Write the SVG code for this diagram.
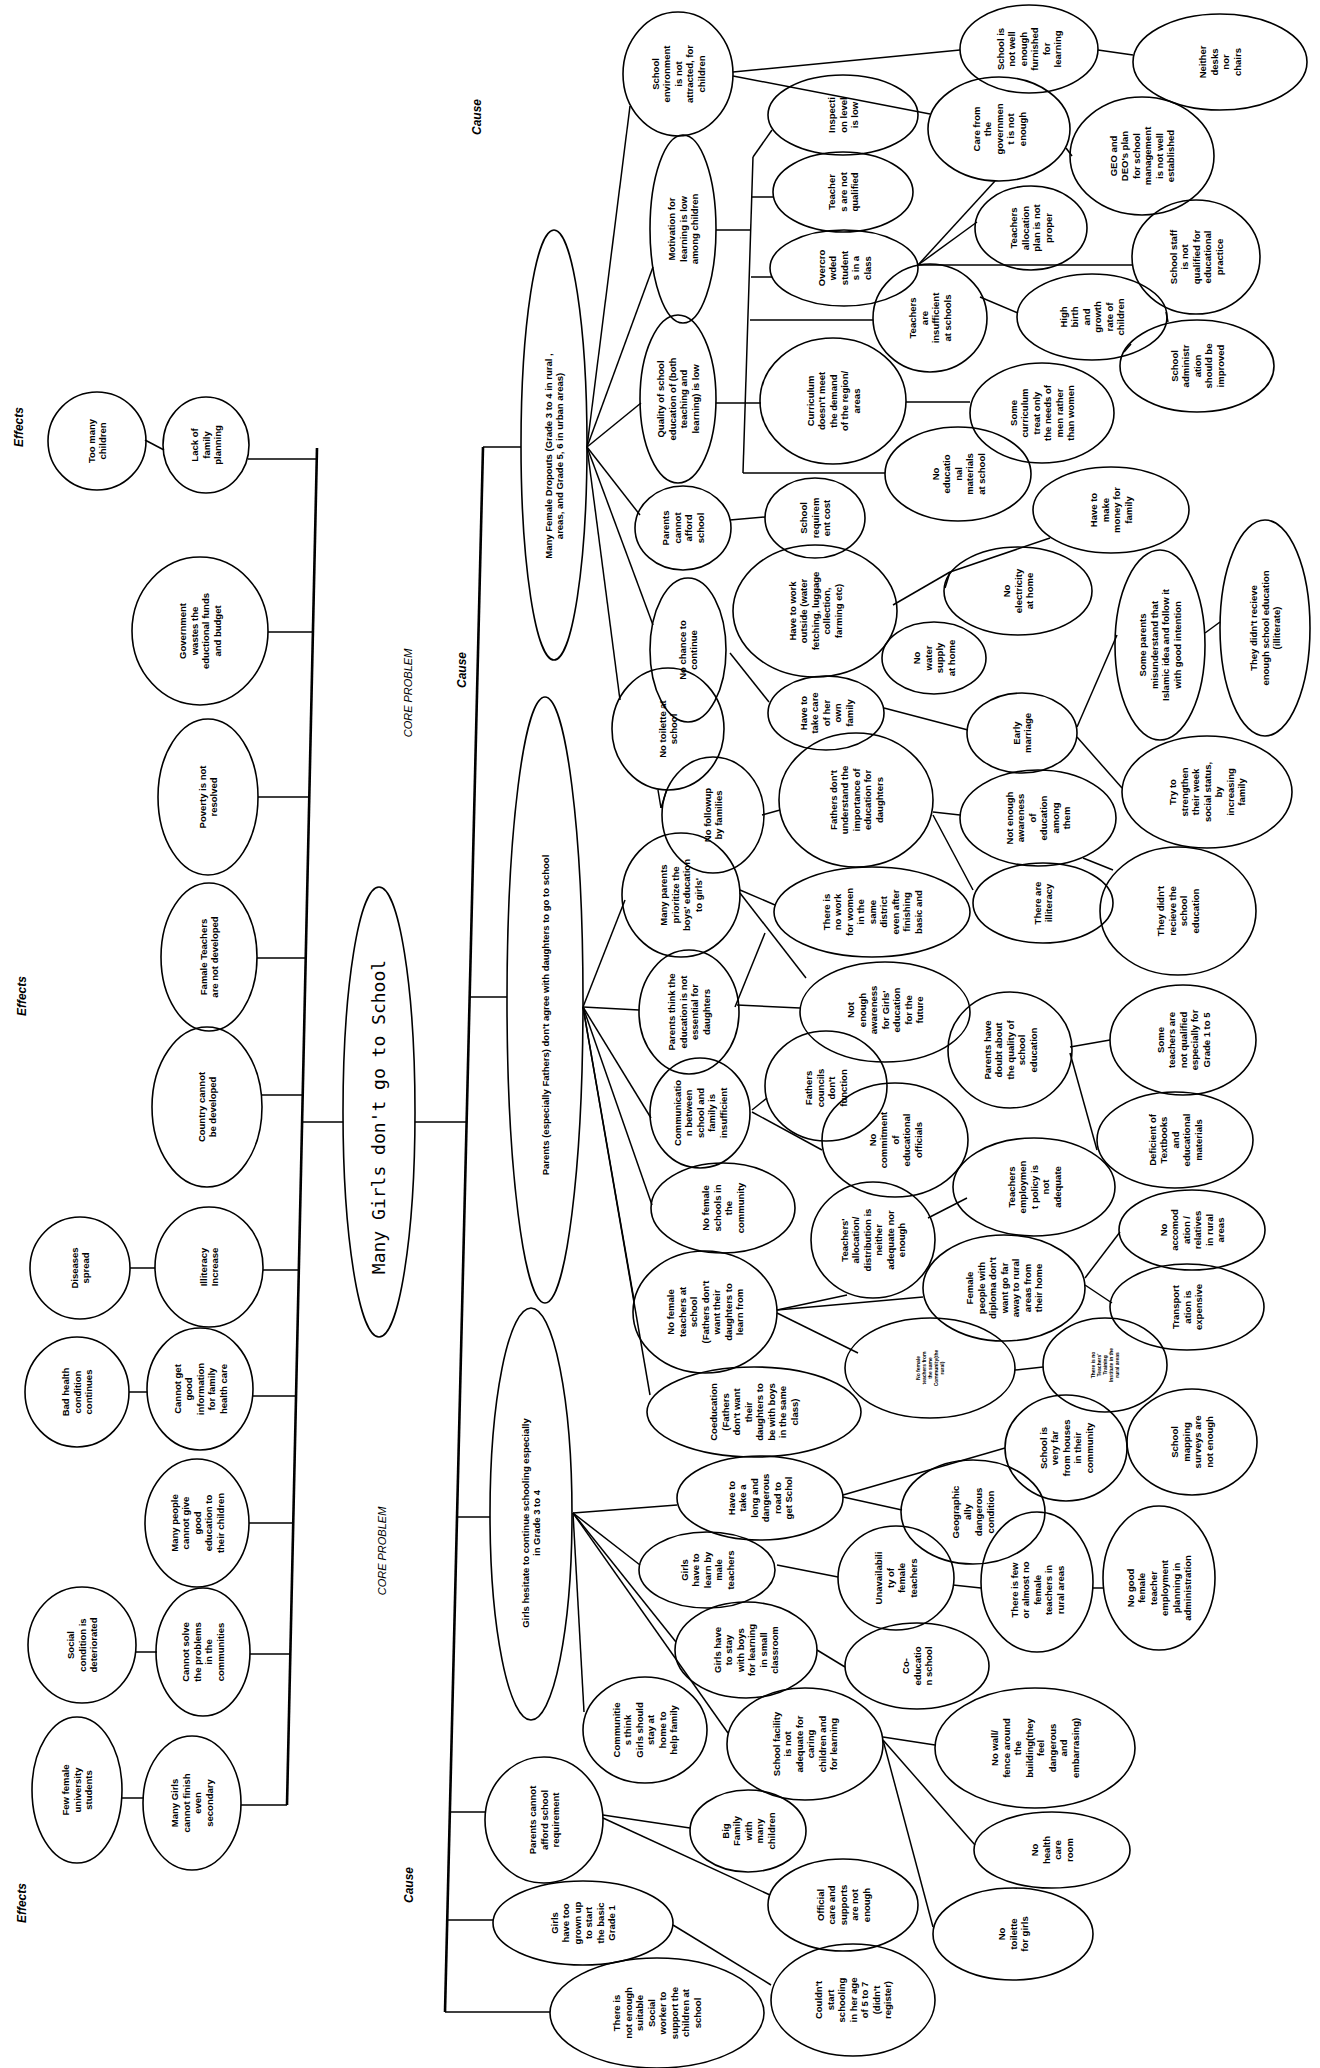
<svg xmlns="http://www.w3.org/2000/svg" width="1320" height="2068" viewBox="0 0 1320 2068">
<style>
.e{fill:none;stroke:#000;stroke-width:1.6}
.t{font-family:"Liberation Sans",Arial,sans-serif;font-size:9.5px;font-weight:bold;text-anchor:middle;fill:#000}
.s{font-family:"Liberation Sans",Arial,sans-serif;font-size:5px;font-weight:bold;text-anchor:middle;fill:#000}
.lbl{font-family:"Liberation Sans",Arial,sans-serif;font-size:12px;font-style:italic;font-weight:bold;text-anchor:middle;fill:#000}
.cp{font-family:"Liberation Sans",Arial,sans-serif;font-size:11px;font-style:italic;text-anchor:middle;fill:#000}
.core{font-family:"DejaVu Sans Mono","Liberation Mono",monospace;font-size:18px;text-anchor:middle;fill:#000}
#links line{stroke:#000;stroke-width:1.5;fill:none}
#links .trunk{stroke-width:2.6}
</style>
<rect width="1320" height="2068" fill="#fff"/>

<g id="labels">
<text class="lbl" transform="translate(19 427) rotate(-90)" dy="4">Effects</text>
<text class="lbl" transform="translate(22 996) rotate(-90)" dy="4">Effects</text>
<text class="lbl" transform="translate(22 1903) rotate(-90)" dy="4">Effects</text>
<text class="lbl" transform="translate(477 117) rotate(-90)" dy="4">Cause</text>
<text class="lbl" transform="translate(462 670) rotate(-90)" dy="4">Cause</text>
<text class="lbl" transform="translate(409 1885) rotate(-90)" dy="4">Cause</text>
<text class="cp" transform="translate(408 693) rotate(-90)" dy="4">CORE PROBLEM</text>
<text class="cp" transform="translate(382 1551) rotate(-90)" dy="4">CORE PROBLEM</text>
</g>

<g id="links">
<line x1="343" y1="1122" x2="302" y2="1122"/>
<line class="trunk" x1="317" y1="448" x2="287" y2="1805"/>
<line x1="248" y1="459" x2="317" y2="459"/>
<line x1="145" y1="440" x2="164" y2="450"/>
<line x1="268" y1="632" x2="313" y2="632"/>
<line x1="258" y1="797" x2="309" y2="797"/>
<line x1="257" y1="958" x2="306" y2="958"/>
<line x1="262" y1="1095" x2="303" y2="1095"/>
<line x1="263" y1="1270" x2="299" y2="1270"/>
<line x1="130" y1="1268" x2="155" y2="1268"/>
<line x1="253" y1="1396" x2="296" y2="1396"/>
<line x1="129" y1="1392" x2="147" y2="1392"/>
<line x1="249" y1="1523" x2="293" y2="1523"/>
<line x1="250" y1="1654" x2="290" y2="1654"/>
<line x1="136" y1="1652" x2="157" y2="1652"/>
<line x1="241" y1="1805" x2="287" y2="1805"/>
<line x1="122" y1="1798" x2="143" y2="1798"/>

<line x1="415" y1="1122" x2="467" y2="1122"/>
<line class="trunk" x1="483" y1="447" x2="445" y2="2012"/>
<line x1="483" y1="447" x2="521" y2="447"/>
<line x1="470" y1="997" x2="507" y2="997"/>
<line x1="457" y1="1517" x2="490" y2="1517"/>
<line x1="450" y1="1812" x2="485" y2="1812"/>
<line x1="447" y1="1920" x2="493" y2="1920"/>
<line x1="445" y1="2012" x2="550" y2="2012"/>

<line x1="587" y1="447" x2="630" y2="106"/>
<line x1="587" y1="447" x2="653" y2="267"/>
<line x1="587" y1="447" x2="641" y2="403"/>
<line x1="587" y1="447" x2="640" y2="515"/>
<line x1="587" y1="447" x2="653" y2="625"/>
<line x1="587" y1="447" x2="620" y2="700"/>

<line x1="583" y1="1007" x2="625" y2="900"/>
<line x1="583" y1="1007" x2="639" y2="1010"/>
<line x1="583" y1="1007" x2="651" y2="1118"/>
<line x1="583" y1="1007" x2="652" y2="1205"/>
<line x1="583" y1="1007" x2="634" y2="1300"/>
<line x1="583" y1="1007" x2="650" y2="1395"/>

<line x1="573" y1="1513" x2="677" y2="1505"/>
<line x1="573" y1="1513" x2="640" y2="1565"/>
<line x1="573" y1="1513" x2="676" y2="1642"/>
<line x1="573" y1="1513" x2="728" y2="1733"/>
<line x1="573" y1="1513" x2="584" y2="1712"/>

<line x1="716" y1="230" x2="750" y2="230"/>
<line x1="716" y1="403" x2="745" y2="403"/>
<line x1="753" y1="157" x2="743" y2="473"/>
<line x1="743" y1="473" x2="885" y2="473"/>
<line x1="753" y1="157" x2="772" y2="130"/>
<line x1="752" y1="197" x2="773" y2="197"/>
<line x1="751" y1="277" x2="772" y2="277"/>
<line x1="750" y1="320" x2="873" y2="320"/>
<line x1="745" y1="403" x2="761" y2="403"/>
<line x1="906" y1="402" x2="970" y2="402"/>
<line x1="733" y1="72" x2="960" y2="50"/>
<line x1="733" y1="76" x2="930" y2="114"/>
<line x1="1098" y1="50" x2="1133" y2="55"/>
<line x1="1066" y1="148" x2="1072" y2="156"/>
<line x1="918" y1="265" x2="995" y2="181"/>
<line x1="918" y1="265" x2="977" y2="222"/>
<line x1="918" y1="265" x2="1132" y2="265"/>
<line x1="980" y1="297" x2="1018" y2="313"/>
<line x1="1124" y1="352" x2="1131" y2="344"/>
<line x1="1166" y1="312" x2="1168" y2="322"/>

<line x1="730" y1="520" x2="765" y2="517"/>
<line x1="730" y1="653" x2="769" y2="702"/>
<line x1="893" y1="605" x2="950" y2="572"/>
<line x1="950" y1="572" x2="945" y2="588"/>
<line x1="950" y1="572" x2="1050" y2="538"/>
<line x1="884" y1="708" x2="968" y2="730"/>
<line x1="1077" y1="727" x2="1117" y2="635"/>
<line x1="1077" y1="737" x2="1122" y2="788"/>
<line x1="1205" y1="633" x2="1220" y2="622"/>
<line x1="658" y1="790" x2="661" y2="808"/>
<line x1="667" y1="789" x2="661" y2="808"/>
<line x1="762" y1="815" x2="780" y2="810"/>
<line x1="933" y1="812" x2="960" y2="815"/>
<line x1="933" y1="815" x2="973" y2="890"/>
<line x1="1083" y1="858" x2="1113" y2="870"/>
<line x1="740" y1="890" x2="775" y2="905"/>
<line x1="740" y1="893" x2="806" y2="978"/>
<line x1="735" y1="1007" x2="765" y2="933"/>
<line x1="737" y1="1005" x2="800" y2="1008"/>
<line x1="752" y1="1110" x2="767" y2="1098"/>
<line x1="752" y1="1112" x2="822" y2="1150"/>
<line x1="1070" y1="1047" x2="1110" y2="1040"/>
<line x1="1070" y1="1053" x2="1097" y2="1150"/>
<line x1="928" y1="1218" x2="967" y2="1198"/>
<line x1="777" y1="1310" x2="847" y2="1295"/>
<line x1="777" y1="1310" x2="923" y2="1297"/>
<line x1="777" y1="1313" x2="858" y2="1353"/>
<line x1="1085" y1="1278" x2="1120" y2="1232"/>
<line x1="1085" y1="1285" x2="1112" y2="1303"/>
<line x1="1015" y1="1370" x2="1043" y2="1367"/>
<line x1="843" y1="1497" x2="902" y2="1510"/>
<line x1="843" y1="1495" x2="1005" y2="1448"/>
<line x1="777" y1="1565" x2="838" y2="1577"/>
<line x1="953" y1="1585" x2="981" y2="1588"/>
<line x1="1092" y1="1588" x2="1103" y2="1588"/>
<line x1="817" y1="1650" x2="845" y2="1667"/>
<line x1="883" y1="1737" x2="935" y2="1745"/>
<line x1="883" y1="1740" x2="975" y2="1845"/>
<line x1="883" y1="1740" x2="933" y2="1927"/>
<line x1="603" y1="1815" x2="690" y2="1828"/>
<line x1="603" y1="1818" x2="770" y2="1895"/>
<line x1="673" y1="1925" x2="771" y2="1985"/>
</g>

<g id="core"><ellipse class="e" cx="379" cy="1112" rx="36" ry="225"/><text class="core" transform="translate(379 1117) rotate(-90)" dy="6">Many Girls don't go to School</text></g>

<g id="ef1"><ellipse class="e" cx="97" cy="441" rx="49" ry="49"/><text class="t" transform="translate(97 441) rotate(-90)"><tspan x="0" dy="-2.25">Too many</tspan><tspan x="0" dy="11.5">children</tspan></text></g>
<g id="ef2"><ellipse class="e" cx="206" cy="445" rx="43" ry="48"/><text class="t" transform="translate(206 445) rotate(-90)"><tspan x="0" dy="-8">Lack of</tspan><tspan x="0" dy="11.5">family</tspan><tspan x="0" dy="11.5">planning</tspan></text></g>
<g id="ef3"><ellipse class="e" cx="200" cy="631" rx="68" ry="74"/><text class="t" transform="translate(200 631) rotate(-90)"><tspan x="0" dy="-13.75">Government</tspan><tspan x="0" dy="11.5">wastes the</tspan><tspan x="0" dy="11.5">eductional funds</tspan><tspan x="0" dy="11.5">and budget</tspan></text></g>
<g id="ef4"><ellipse class="e" cx="208" cy="797" rx="50" ry="78"/><text class="t" transform="translate(208 797) rotate(-90)"><tspan x="0" dy="-2.25">Poverty is not</tspan><tspan x="0" dy="11.5">resolved</tspan></text></g>
<g id="ef5"><ellipse class="e" cx="209" cy="957" rx="48" ry="74"/><text class="t" transform="translate(209 957) rotate(-90)"><tspan x="0" dy="-2.25">Famale Teachers</tspan><tspan x="0" dy="11.5">are not developed</tspan></text></g>
<g id="ef6"><ellipse class="e" cx="207" cy="1107" rx="55" ry="80"/><text class="t" transform="translate(207 1107) rotate(-90)"><tspan x="0" dy="-2.25">Country cannot</tspan><tspan x="0" dy="11.5">be developed</tspan></text></g>
<g id="ef7"><ellipse class="e" cx="80" cy="1268" rx="50" ry="51"/><text class="t" transform="translate(80 1268) rotate(-90)"><tspan x="0" dy="-2.25">Diseases</tspan><tspan x="0" dy="11.5">spread</tspan></text></g>
<g id="ef8"><ellipse class="e" cx="209" cy="1267" rx="54" ry="60"/><text class="t" transform="translate(209 1267) rotate(-90)"><tspan x="0" dy="-2.25">Illiteracy</tspan><tspan x="0" dy="11.5">Increase</tspan></text></g>
<g id="ef9"><ellipse class="e" cx="77" cy="1392" rx="52" ry="55"/><text class="t" transform="translate(77 1392) rotate(-90)"><tspan x="0" dy="-8">Bad health</tspan><tspan x="0" dy="11.5">condition</tspan><tspan x="0" dy="11.5">continues</tspan></text></g>
<g id="ef10"><ellipse class="e" cx="200" cy="1389" rx="53" ry="61"/><text class="t" transform="translate(200 1389) rotate(-90)"><tspan x="0" dy="-19.5">Cannot get</tspan><tspan x="0" dy="11.5">good</tspan><tspan x="0" dy="11.5">information</tspan><tspan x="0" dy="11.5">for family</tspan><tspan x="0" dy="11.5">health care</tspan></text></g>
<g id="ef11"><ellipse class="e" cx="197" cy="1523" rx="52" ry="64"/><text class="t" transform="translate(197 1523) rotate(-90)"><tspan x="0" dy="-19.5">Many people</tspan><tspan x="0" dy="11.5">cannot give</tspan><tspan x="0" dy="11.5">good</tspan><tspan x="0" dy="11.5">education to</tspan><tspan x="0" dy="11.5">their children</tspan></text></g>
<g id="ef12"><ellipse class="e" cx="82" cy="1645" rx="54" ry="58"/><text class="t" transform="translate(82 1645) rotate(-90)"><tspan x="0" dy="-8">Social</tspan><tspan x="0" dy="11.5">condition is</tspan><tspan x="0" dy="11.5">deteriorated</tspan></text></g>
<g id="ef13"><ellipse class="e" cx="203" cy="1652" rx="47" ry="64"/><text class="t" transform="translate(203 1652) rotate(-90)"><tspan x="0" dy="-13.75">Cannot solve</tspan><tspan x="0" dy="11.5">the problems</tspan><tspan x="0" dy="11.5">in the</tspan><tspan x="0" dy="11.5">communities</tspan></text></g>
<g id="ef14"><ellipse class="e" cx="77" cy="1790" rx="45" ry="73"/><text class="t" transform="translate(77 1790) rotate(-90)"><tspan x="0" dy="-8">Few female</tspan><tspan x="0" dy="11.5">university</tspan><tspan x="0" dy="11.5">students</tspan></text></g>
<g id="ef15"><ellipse class="e" cx="192" cy="1803" rx="49" ry="67"/><text class="t" transform="translate(192 1803) rotate(-90)"><tspan x="0" dy="-13.75">Many Girls</tspan><tspan x="0" dy="11.5">cannot finish</tspan><tspan x="0" dy="11.5">even</tspan><tspan x="0" dy="11.5">secondary</tspan></text></g>

<g id="cA"><ellipse class="e" cx="554" cy="445" rx="33" ry="215"/><text class="t" transform="translate(554 456) rotate(-90)"><tspan x="0" dy="-2.25">Many Female Dropouts (Grade 3 to 4 in rural ,</tspan><tspan x="0" dy="11.5">areas, and Grade 5, 6 in urban areas)</tspan></text></g>
<g id="cB"><ellipse class="e" cx="545" cy="1000" rx="38" ry="303"/><text class="t" transform="translate(545 1015) rotate(-90)" dy="3.5">Parents (especially Fathers) don't agree with daughters to go to school</text></g>
<g id="cC"><ellipse class="e" cx="531" cy="1514" rx="41" ry="206"/><text class="t" transform="translate(531 1523) rotate(-90)"><tspan x="0" dy="-2.25">Girls hesitate to continue schooling especially</tspan><tspan x="0" dy="11.5">in Grade 3 to 4</tspan></text></g>
<g id="cD"><ellipse class="e" cx="544" cy="1820" rx="59" ry="63"/><text class="t" transform="translate(544 1820) rotate(-90)"><tspan x="0" dy="-8">Parents cannot</tspan><tspan x="0" dy="11.5">afford school</tspan><tspan x="0" dy="11.5">requirement</tspan></text></g>
<g id="cE"><ellipse class="e" cx="583" cy="1923" rx="90" ry="42"/><text class="t" transform="translate(583 1923) rotate(-90)"><tspan x="0" dy="-25.25">Girls</tspan><tspan x="0" dy="11.5">have too</tspan><tspan x="0" dy="11.5">grown up</tspan><tspan x="0" dy="11.5">to start</tspan><tspan x="0" dy="11.5">the basic</tspan><tspan x="0" dy="11.5">Grade 1</tspan></text></g>
<g id="cF"><ellipse class="e" cx="657" cy="2013" rx="107" ry="55"/><text class="t" transform="translate(657 2013) rotate(-90)"><tspan x="0" dy="-36.75">There is</tspan><tspan x="0" dy="11.5">not enough</tspan><tspan x="0" dy="11.5">suitable</tspan><tspan x="0" dy="11.5">Social</tspan><tspan x="0" dy="11.5">worker to</tspan><tspan x="0" dy="11.5">support the</tspan><tspan x="0" dy="11.5">children at</tspan><tspan x="0" dy="11.5">school</tspan></text></g>

<g id="a1"><ellipse class="e" cx="678" cy="74" rx="55" ry="62"/><text class="t" transform="translate(678 74) rotate(-90)"><tspan x="0" dy="-19.5">School</tspan><tspan x="0" dy="11.5">environment</tspan><tspan x="0" dy="11.5">is not</tspan><tspan x="0" dy="11.5">attracted, for</tspan><tspan x="0" dy="11.5">children</tspan></text></g>
<g id="a2"><ellipse class="e" cx="683" cy="229" rx="33" ry="94"/><text class="t" transform="translate(683 229) rotate(-90)"><tspan x="0" dy="-8">Motivation for</tspan><tspan x="0" dy="11.5">learning is low</tspan><tspan x="0" dy="11.5">among children</tspan></text></g>
<g id="a3"><ellipse class="e" cx="678" cy="399" rx="38" ry="84"/><text class="t" transform="translate(678 399) rotate(-90)"><tspan x="0" dy="-13.75">Quality of school</tspan><tspan x="0" dy="11.5">education of (both</tspan><tspan x="0" dy="11.5">teaching and</tspan><tspan x="0" dy="11.5">learning) is low</tspan></text></g>
<g id="a4"><ellipse class="e" cx="683" cy="528" rx="48" ry="42"/><text class="t" transform="translate(683 528) rotate(-90)"><tspan x="0" dy="-13.75">Parents</tspan><tspan x="0" dy="11.5">cannot</tspan><tspan x="0" dy="11.5">afford</tspan><tspan x="0" dy="11.5">school</tspan></text></g>
<g id="a5"><ellipse class="e" cx="688" cy="650" rx="38" ry="72"/><text class="t" transform="translate(688 650) rotate(-90)"><tspan x="0" dy="-2.25">No chance to</tspan><tspan x="0" dy="11.5">continue</tspan></text></g>
<g id="a6"><ellipse class="e" cx="668" cy="729" rx="56" ry="61"/><text class="t" transform="translate(668 729) rotate(-90)"><tspan x="0" dy="-2.25">No toilette at</tspan><tspan x="0" dy="11.5">school</tspan></text></g>
<g id="a7"><ellipse class="e" cx="843" cy="115" rx="75" ry="40"/><text class="t" transform="translate(843 115) rotate(-90)"><tspan x="0" dy="-8">Inspecti</tspan><tspan x="0" dy="11.5">on level</tspan><tspan x="0" dy="11.5">is low</tspan></text></g>
<g id="a8"><ellipse class="e" cx="843" cy="192" rx="70" ry="40"/><text class="t" transform="translate(843 192) rotate(-90)"><tspan x="0" dy="-8">Teacher</tspan><tspan x="0" dy="11.5">s are not</tspan><tspan x="0" dy="11.5">qualified</tspan></text></g>
<g id="a9"><ellipse class="e" cx="844" cy="268" rx="74" ry="38"/><text class="t" transform="translate(844 268) rotate(-90)"><tspan x="0" dy="-19.5">Overcro</tspan><tspan x="0" dy="11.5">wded</tspan><tspan x="0" dy="11.5">student</tspan><tspan x="0" dy="11.5">s in a</tspan><tspan x="0" dy="11.5">class</tspan></text></g>
<g id="a10"><ellipse class="e" cx="930" cy="318" rx="57" ry="54"/><text class="t" transform="translate(930 318) rotate(-90)"><tspan x="0" dy="-13.75">Teachers</tspan><tspan x="0" dy="11.5">are</tspan><tspan x="0" dy="11.5">insufficient</tspan><tspan x="0" dy="11.5">at schools</tspan></text></g>
<g id="a11"><ellipse class="e" cx="833" cy="401" rx="73" ry="63"/><text class="t" transform="translate(833 401) rotate(-90)"><tspan x="0" dy="-19.5">Curriculum</tspan><tspan x="0" dy="11.5">doesn't meet</tspan><tspan x="0" dy="11.5">the demand</tspan><tspan x="0" dy="11.5">of the region/</tspan><tspan x="0" dy="11.5">areas</tspan></text></g>
<g id="a12"><ellipse class="e" cx="958" cy="474" rx="73" ry="47"/><text class="t" transform="translate(958 474) rotate(-90)"><tspan x="0" dy="-19.5">No</tspan><tspan x="0" dy="11.5">educatio</tspan><tspan x="0" dy="11.5">nal</tspan><tspan x="0" dy="11.5">materials</tspan><tspan x="0" dy="11.5">at school</tspan></text></g>
<g id="a13"><ellipse class="e" cx="1042" cy="413" rx="72" ry="50"/><text class="t" transform="translate(1042 413) rotate(-90)"><tspan x="0" dy="-25.25">Some</tspan><tspan x="0" dy="11.5">curriculum</tspan><tspan x="0" dy="11.5">treat only</tspan><tspan x="0" dy="11.5">the needs of</tspan><tspan x="0" dy="11.5">men rather</tspan><tspan x="0" dy="11.5">than women</tspan></text></g>
<g id="a14"><ellipse class="e" cx="1029" cy="49" rx="69" ry="44"/><text class="t" transform="translate(1029 49) rotate(-90)"><tspan x="0" dy="-25.25">School is</tspan><tspan x="0" dy="11.5">not well</tspan><tspan x="0" dy="11.5">enough</tspan><tspan x="0" dy="11.5">furnished</tspan><tspan x="0" dy="11.5">for</tspan><tspan x="0" dy="11.5">learning</tspan></text></g>
<g id="a15"><ellipse class="e" cx="1220" cy="62" rx="87" ry="48"/><text class="t" transform="translate(1220 62) rotate(-90)"><tspan x="0" dy="-13.75">Neither</tspan><tspan x="0" dy="11.5">desks</tspan><tspan x="0" dy="11.5">nor</tspan><tspan x="0" dy="11.5">chairs</tspan></text></g>
<g id="a16"><ellipse class="e" cx="999" cy="129" rx="71" ry="52"/><text class="t" transform="translate(999 129) rotate(-90)"><tspan x="0" dy="-19.5">Care from</tspan><tspan x="0" dy="11.5">the</tspan><tspan x="0" dy="11.5">governmen</tspan><tspan x="0" dy="11.5">t is not</tspan><tspan x="0" dy="11.5">enough</tspan></text></g>
<g id="a17"><ellipse class="e" cx="1142" cy="156" rx="72" ry="59"/><text class="t" transform="translate(1142 156) rotate(-90)"><tspan x="0" dy="-25.25">GEO and</tspan><tspan x="0" dy="11.5">DEO's plan</tspan><tspan x="0" dy="11.5">for school</tspan><tspan x="0" dy="11.5">management</tspan><tspan x="0" dy="11.5">is not well</tspan><tspan x="0" dy="11.5">established</tspan></text></g>
<g id="a18"><ellipse class="e" cx="1031" cy="228" rx="56" ry="42"/><text class="t" transform="translate(1031 228) rotate(-90)"><tspan x="0" dy="-13.75">Teachers</tspan><tspan x="0" dy="11.5">allocation</tspan><tspan x="0" dy="11.5">plan is not</tspan><tspan x="0" dy="11.5">proper</tspan></text></g>
<g id="a19"><ellipse class="e" cx="1196" cy="257" rx="64" ry="57"/><text class="t" transform="translate(1196 257) rotate(-90)"><tspan x="0" dy="-19.5">School staff</tspan><tspan x="0" dy="11.5">is not</tspan><tspan x="0" dy="11.5">qualified for</tspan><tspan x="0" dy="11.5">educational</tspan><tspan x="0" dy="11.5">practice</tspan></text></g>
<g id="a20"><ellipse class="e" cx="1092" cy="317" rx="75" ry="43"/><text class="t" transform="translate(1092 317) rotate(-90)"><tspan x="0" dy="-25.25">High</tspan><tspan x="0" dy="11.5">birth</tspan><tspan x="0" dy="11.5">and</tspan><tspan x="0" dy="11.5">growth</tspan><tspan x="0" dy="11.5">rate of</tspan><tspan x="0" dy="11.5">children</tspan></text></g>
<g id="a21"><ellipse class="e" cx="1197" cy="366" rx="77" ry="46"/><text class="t" transform="translate(1197 366) rotate(-90)"><tspan x="0" dy="-19.5">School</tspan><tspan x="0" dy="11.5">administr</tspan><tspan x="0" dy="11.5">ation</tspan><tspan x="0" dy="11.5">should be</tspan><tspan x="0" dy="11.5">improved</tspan></text></g>
<g id="a22"><ellipse class="e" cx="815" cy="518" rx="50" ry="40"/><text class="t" transform="translate(815 518) rotate(-90)"><tspan x="0" dy="-8">School</tspan><tspan x="0" dy="11.5">requirem</tspan><tspan x="0" dy="11.5">ent cost</tspan></text></g>
<g id="a23"><ellipse class="e" cx="815" cy="611" rx="82" ry="66"/><text class="t" transform="translate(815 611) rotate(-90)"><tspan x="0" dy="-19.5">Have to work</tspan><tspan x="0" dy="11.5">outside (water</tspan><tspan x="0" dy="11.5">fetching, luggage</tspan><tspan x="0" dy="11.5">collection,</tspan><tspan x="0" dy="11.5">farming etc)</tspan></text></g>
<g id="a24"><ellipse class="e" cx="826" cy="713" rx="58" ry="37"/><text class="t" transform="translate(826 713) rotate(-90)"><tspan x="0" dy="-19.5">Have to</tspan><tspan x="0" dy="11.5">take care</tspan><tspan x="0" dy="11.5">of her</tspan><tspan x="0" dy="11.5">own</tspan><tspan x="0" dy="11.5">family</tspan></text></g>
<g id="a25"><ellipse class="e" cx="1111" cy="510" rx="78" ry="43"/><text class="t" transform="translate(1111 510) rotate(-90)"><tspan x="0" dy="-13.75">Have to</tspan><tspan x="0" dy="11.5">make</tspan><tspan x="0" dy="11.5">money for</tspan><tspan x="0" dy="11.5">family</tspan></text></g>
<g id="a26"><ellipse class="e" cx="934" cy="658" rx="52" ry="36"/><text class="t" transform="translate(934 658) rotate(-90)"><tspan x="0" dy="-13.75">No</tspan><tspan x="0" dy="11.5">water</tspan><tspan x="0" dy="11.5">supply</tspan><tspan x="0" dy="11.5">at home</tspan></text></g>
<g id="a27"><ellipse class="e" cx="1018" cy="591" rx="74" ry="44"/><text class="t" transform="translate(1018 591) rotate(-90)"><tspan x="0" dy="-8">No</tspan><tspan x="0" dy="11.5">electricity</tspan><tspan x="0" dy="11.5">at home</tspan></text></g>
<g id="a28"><ellipse class="e" cx="1022" cy="733" rx="55" ry="40"/><text class="t" transform="translate(1022 733) rotate(-90)"><tspan x="0" dy="-2.25">Early</tspan><tspan x="0" dy="11.5">marriage</tspan></text></g>
<g id="a29"><ellipse class="e" cx="1160" cy="645" rx="45" ry="95"/><text class="t" transform="translate(1160 645) rotate(-90)"><tspan x="0" dy="-13.75">Some parents</tspan><tspan x="0" dy="11.5">misunderstand that</tspan><tspan x="0" dy="11.5">Islamic idea and follow it</tspan><tspan x="0" dy="11.5">with good intention</tspan></text></g>
<g id="a30"><ellipse class="e" cx="1265" cy="628" rx="45" ry="108"/><text class="t" transform="translate(1265 628) rotate(-90)"><tspan x="0" dy="-8">They didn't recieve</tspan><tspan x="0" dy="11.5">enough school education</tspan><tspan x="0" dy="11.5">(illiterate)</tspan></text></g>
<g id="a31"><ellipse class="e" cx="1207" cy="792" rx="85" ry="56"/><text class="t" transform="translate(1207 792) rotate(-90)"><tspan x="0" dy="-31">Try to</tspan><tspan x="0" dy="11.5">strengthen</tspan><tspan x="0" dy="11.5">their week</tspan><tspan x="0" dy="11.5">social status,</tspan><tspan x="0" dy="11.5">by</tspan><tspan x="0" dy="11.5">increasing</tspan><tspan x="0" dy="11.5">family</tspan></text></g>
<g id="a32"><ellipse class="e" cx="713" cy="815" rx="51" ry="58"/><text class="t" transform="translate(713 815) rotate(-90)"><tspan x="0" dy="-2.25">No followup</tspan><tspan x="0" dy="11.5">by families</tspan></text></g>
<g id="a33"><ellipse class="e" cx="856" cy="800" rx="77" ry="67"/><text class="t" transform="translate(856 800) rotate(-90)"><tspan x="0" dy="-19.5">Fathers don't</tspan><tspan x="0" dy="11.5">understand the</tspan><tspan x="0" dy="11.5">importance of</tspan><tspan x="0" dy="11.5">education for</tspan><tspan x="0" dy="11.5">daughters</tspan></text></g>
<g id="a34"><ellipse class="e" cx="1038" cy="818" rx="78" ry="48"/><text class="t" transform="translate(1038 818) rotate(-90)"><tspan x="0" dy="-25.25">Not enough</tspan><tspan x="0" dy="11.5">awareness</tspan><tspan x="0" dy="11.5">of</tspan><tspan x="0" dy="11.5">education</tspan><tspan x="0" dy="11.5">among</tspan><tspan x="0" dy="11.5">them</tspan></text></g>
<g id="a35"><ellipse class="e" cx="1043" cy="903" rx="70" ry="40"/><text class="t" transform="translate(1043 903) rotate(-90)"><tspan x="0" dy="-2.25">There are</tspan><tspan x="0" dy="11.5">illiteracy</tspan></text></g>
<g id="a36"><ellipse class="e" cx="1178" cy="911" rx="78" ry="64"/><text class="t" transform="translate(1178 911) rotate(-90)"><tspan x="0" dy="-13.75">They didn't</tspan><tspan x="0" dy="11.5">recieve the</tspan><tspan x="0" dy="11.5">school</tspan><tspan x="0" dy="11.5">education</tspan></text></g>

<g id="b1"><ellipse class="e" cx="681" cy="895" rx="59" ry="62"/><text class="t" transform="translate(681 895) rotate(-90)"><tspan x="0" dy="-13.75">Many parents</tspan><tspan x="0" dy="11.5">prioritize the</tspan><tspan x="0" dy="11.5">boys' education</tspan><tspan x="0" dy="11.5">to girls'</tspan></text></g>
<g id="b2"><ellipse class="e" cx="689" cy="1012" rx="50" ry="62"/><text class="t" transform="translate(689 1012) rotate(-90)"><tspan x="0" dy="-13.75">Parents think the</tspan><tspan x="0" dy="11.5">education is not</tspan><tspan x="0" dy="11.5">essential for</tspan><tspan x="0" dy="11.5">daughters</tspan></text></g>
<g id="b3"><ellipse class="e" cx="700" cy="1113" rx="50" ry="55"/><text class="t" transform="translate(700 1113) rotate(-90)"><tspan x="0" dy="-19.5">Communicatio</tspan><tspan x="0" dy="11.5">n between</tspan><tspan x="0" dy="11.5">school and</tspan><tspan x="0" dy="11.5">family is</tspan><tspan x="0" dy="11.5">insufficient</tspan></text></g>
<g id="b4"><ellipse class="e" cx="723" cy="1208" rx="72" ry="45"/><text class="t" transform="translate(723 1208) rotate(-90)"><tspan x="0" dy="-13.75">No female</tspan><tspan x="0" dy="11.5">schools in</tspan><tspan x="0" dy="11.5">the</tspan><tspan x="0" dy="11.5">community</tspan></text></g>
<g id="b5"><ellipse class="e" cx="705" cy="1312" rx="72" ry="61"/><text class="t" transform="translate(705 1312) rotate(-90)"><tspan x="0" dy="-31">No female</tspan><tspan x="0" dy="11.5">teachers at</tspan><tspan x="0" dy="11.5">school</tspan><tspan x="0" dy="11.5">(Fathers don't</tspan><tspan x="0" dy="11.5">want their</tspan><tspan x="0" dy="11.5">daughters to</tspan><tspan x="0" dy="11.5">learn from</tspan></text></g>
<g id="b6"><ellipse class="e" cx="754" cy="1412" rx="107" ry="45"/><text class="t" transform="translate(754 1412) rotate(-90)"><tspan x="0" dy="-36.75">Coeducation</tspan><tspan x="0" dy="11.5">(Fathers</tspan><tspan x="0" dy="11.5">don't want</tspan><tspan x="0" dy="11.5">their</tspan><tspan x="0" dy="11.5">daughters to</tspan><tspan x="0" dy="11.5">be with boys</tspan><tspan x="0" dy="11.5">in the same</tspan><tspan x="0" dy="11.5">class)</tspan></text></g>
<g id="b7"><ellipse class="e" cx="872" cy="912" rx="98" ry="45"/><text class="t" transform="translate(872 912) rotate(-90)"><tspan x="0" dy="-42.5">There is</tspan><tspan x="0" dy="11.5">no work</tspan><tspan x="0" dy="11.5">for women</tspan><tspan x="0" dy="11.5">in the</tspan><tspan x="0" dy="11.5">same</tspan><tspan x="0" dy="11.5">district</tspan><tspan x="0" dy="11.5">even after</tspan><tspan x="0" dy="11.5">finishing</tspan><tspan x="0" dy="11.5">basic and</tspan></text></g>
<g id="b8"><ellipse class="e" cx="885" cy="1012" rx="85" ry="50"/><text class="t" transform="translate(885 1010) rotate(-90)"><tspan x="0" dy="-31">Not</tspan><tspan x="0" dy="11.5">enough</tspan><tspan x="0" dy="11.5">awareness</tspan><tspan x="0" dy="11.5">for Girls'</tspan><tspan x="0" dy="11.5">education</tspan><tspan x="0" dy="11.5">for the</tspan><tspan x="0" dy="11.5">future</tspan></text></g>
<g id="b9"><ellipse class="e" cx="826" cy="1086" rx="61" ry="55"/><text class="t" transform="translate(826 1088) rotate(-90)"><tspan x="0" dy="-13.75">Fathers</tspan><tspan x="0" dy="11.5">councils</tspan><tspan x="0" dy="11.5">don't</tspan><tspan x="0" dy="11.5">function</tspan></text></g>
<g id="b10"><ellipse class="e" cx="895" cy="1140" rx="73" ry="57"/><text class="t" transform="translate(895 1140) rotate(-90)"><tspan x="0" dy="-19.5">No</tspan><tspan x="0" dy="11.5">commitment</tspan><tspan x="0" dy="11.5">of</tspan><tspan x="0" dy="11.5">educational</tspan><tspan x="0" dy="11.5">officials</tspan></text></g>
<g id="b11"><ellipse class="e" cx="1010" cy="1050" rx="62" ry="58"/><text class="t" transform="translate(1010 1050) rotate(-90)"><tspan x="0" dy="-19.5">Parents have</tspan><tspan x="0" dy="11.5">doubt about</tspan><tspan x="0" dy="11.5">the quality of</tspan><tspan x="0" dy="11.5">school</tspan><tspan x="0" dy="11.5">education</tspan></text></g>
<g id="b12"><ellipse class="e" cx="1183" cy="1040" rx="73" ry="55"/><text class="t" transform="translate(1183 1040) rotate(-90)"><tspan x="0" dy="-19.5">Some</tspan><tspan x="0" dy="11.5">teachers are</tspan><tspan x="0" dy="11.5">not qualified</tspan><tspan x="0" dy="11.5">especially for</tspan><tspan x="0" dy="11.5">Grade 1 to 5</tspan></text></g>
<g id="b13"><ellipse class="e" cx="1175" cy="1140" rx="78" ry="48"/><text class="t" transform="translate(1175 1140) rotate(-90)"><tspan x="0" dy="-19.5">Deficient of</tspan><tspan x="0" dy="11.5">Textbooks</tspan><tspan x="0" dy="11.5">and</tspan><tspan x="0" dy="11.5">educational</tspan><tspan x="0" dy="11.5">materials</tspan></text></g>
<g id="b14"><ellipse class="e" cx="873" cy="1240" rx="62" ry="58"/><text class="t" transform="translate(873 1240) rotate(-90)"><tspan x="0" dy="-25.25">Teachers'</tspan><tspan x="0" dy="11.5">allocation/</tspan><tspan x="0" dy="11.5">distribution is</tspan><tspan x="0" dy="11.5">neither</tspan><tspan x="0" dy="11.5">adequate nor</tspan><tspan x="0" dy="11.5">enough</tspan></text></g>
<g id="b15"><ellipse class="e" cx="1034" cy="1187" rx="81" ry="49"/><text class="t" transform="translate(1034 1187) rotate(-90)"><tspan x="0" dy="-19.5">Teachers</tspan><tspan x="0" dy="11.5">employmen</tspan><tspan x="0" dy="11.5">t policy is</tspan><tspan x="0" dy="11.5">not</tspan><tspan x="0" dy="11.5">adequate</tspan></text></g>
<g id="b16"><ellipse class="e" cx="1004" cy="1288" rx="81" ry="53"/><text class="t" transform="translate(1004 1288) rotate(-90)"><tspan x="0" dy="-31">Female</tspan><tspan x="0" dy="11.5">people with</tspan><tspan x="0" dy="11.5">diploma don't</tspan><tspan x="0" dy="11.5">want go far</tspan><tspan x="0" dy="11.5">away to rural</tspan><tspan x="0" dy="11.5">areas from</tspan><tspan x="0" dy="11.5">their home</tspan></text></g>
<g id="b17"><ellipse class="e" cx="1192" cy="1230" rx="73" ry="40"/><text class="t" transform="translate(1192 1230) rotate(-90)"><tspan x="0" dy="-25.25">No</tspan><tspan x="0" dy="11.5">accomod</tspan><tspan x="0" dy="11.5">ation /</tspan><tspan x="0" dy="11.5">relatives</tspan><tspan x="0" dy="11.5">in rural</tspan><tspan x="0" dy="11.5">areas</tspan></text></g>
<g id="b18"><ellipse class="e" cx="1187" cy="1307" rx="77" ry="43"/><text class="t" transform="translate(1187 1307) rotate(-90)"><tspan x="0" dy="-8">Transport</tspan><tspan x="0" dy="11.5">ation is</tspan><tspan x="0" dy="11.5">expensive</tspan></text></g>
<g id="b19"><ellipse class="e" cx="930" cy="1368" rx="85" ry="50"/><text class="s" transform="translate(930 1368) rotate(-90)"><tspan x="0" dy="-10">No female</tspan><tspan x="0" dy="6">teachers from</tspan><tspan x="0" dy="6">the same</tspan><tspan x="0" dy="6">Community(the</tspan><tspan x="0" dy="6">rural)</tspan></text></g>
<g id="b20"><ellipse class="e" cx="1105" cy="1365" rx="62" ry="47"/><text class="s" transform="translate(1105 1365) rotate(-90)"><tspan x="0" dy="-10">There is no</tspan><tspan x="0" dy="6">Teachers'</tspan><tspan x="0" dy="6">Training</tspan><tspan x="0" dy="6">Institute in the</tspan><tspan x="0" dy="6">rural areas</tspan></text></g>

<g id="c1"><ellipse class="e" cx="760" cy="1498" rx="83" ry="42"/><text class="t" transform="translate(760 1498) rotate(-90)"><tspan x="0" dy="-25.25">Have to</tspan><tspan x="0" dy="11.5">take a</tspan><tspan x="0" dy="11.5">long and</tspan><tspan x="0" dy="11.5">dangerous</tspan><tspan x="0" dy="11.5">road to</tspan><tspan x="0" dy="11.5">get Schol</tspan></text></g>
<g id="c2"><ellipse class="e" cx="707" cy="1570" rx="68" ry="38"/><text class="t" transform="translate(707 1570) rotate(-90)"><tspan x="0" dy="-19.5">Girls</tspan><tspan x="0" dy="11.5">have to</tspan><tspan x="0" dy="11.5">learn by</tspan><tspan x="0" dy="11.5">male</tspan><tspan x="0" dy="11.5">teachers</tspan></text></g>
<g id="c3"><ellipse class="e" cx="746" cy="1650" rx="71" ry="48"/><text class="t" transform="translate(746 1650) rotate(-90)"><tspan x="0" dy="-25.25">Girls have</tspan><tspan x="0" dy="11.5">to stay</tspan><tspan x="0" dy="11.5">with boys</tspan><tspan x="0" dy="11.5">for learning</tspan><tspan x="0" dy="11.5">in small</tspan><tspan x="0" dy="11.5">classroom</tspan></text></g>
<g id="c4"><ellipse class="e" cx="645" cy="1730" rx="62" ry="53"/><text class="t" transform="translate(645 1730) rotate(-90)"><tspan x="0" dy="-25.25">Communitie</tspan><tspan x="0" dy="11.5">s think</tspan><tspan x="0" dy="11.5">Girls should</tspan><tspan x="0" dy="11.5">stay at</tspan><tspan x="0" dy="11.5">home to</tspan><tspan x="0" dy="11.5">help family</tspan></text></g>
<g id="c5"><ellipse class="e" cx="805" cy="1744" rx="78" ry="56"/><text class="t" transform="translate(805 1744) rotate(-90)"><tspan x="0" dy="-25.25">School facility</tspan><tspan x="0" dy="11.5">is not</tspan><tspan x="0" dy="11.5">adequate for</tspan><tspan x="0" dy="11.5">caring</tspan><tspan x="0" dy="11.5">children and</tspan><tspan x="0" dy="11.5">for learning</tspan></text></g>
<g id="c6"><ellipse class="e" cx="1066" cy="1448" rx="61" ry="53"/><text class="t" transform="translate(1066 1448) rotate(-90)"><tspan x="0" dy="-19.5">School is</tspan><tspan x="0" dy="11.5">very far</tspan><tspan x="0" dy="11.5">from houses</tspan><tspan x="0" dy="11.5">in their</tspan><tspan x="0" dy="11.5">community</tspan></text></g>
<g id="c7"><ellipse class="e" cx="1192" cy="1442" rx="65" ry="53"/><text class="t" transform="translate(1192 1442) rotate(-90)"><tspan x="0" dy="-13.75">School</tspan><tspan x="0" dy="11.5">mapping</tspan><tspan x="0" dy="11.5">surveys are</tspan><tspan x="0" dy="11.5">not enough</tspan></text></g>
<g id="c8"><ellipse class="e" cx="973" cy="1512" rx="72" ry="52"/><text class="t" transform="translate(973 1512) rotate(-90)"><tspan x="0" dy="-13.75">Geographic</tspan><tspan x="0" dy="11.5">ally</tspan><tspan x="0" dy="11.5">dangerous</tspan><tspan x="0" dy="11.5">condition</tspan></text></g>
<g id="c9"><ellipse class="e" cx="896" cy="1578" rx="58" ry="52"/><text class="t" transform="translate(896 1578) rotate(-90)"><tspan x="0" dy="-13.75">Unavailabili</tspan><tspan x="0" dy="11.5">ty of</tspan><tspan x="0" dy="11.5">female</tspan><tspan x="0" dy="11.5">teachers</tspan></text></g>
<g id="c10"><ellipse class="e" cx="1037" cy="1582" rx="56" ry="70"/><text class="t" transform="translate(1037 1590) rotate(-90)"><tspan x="0" dy="-19.5">There is few</tspan><tspan x="0" dy="11.5">or almost no</tspan><tspan x="0" dy="11.5">female</tspan><tspan x="0" dy="11.5">teachers in</tspan><tspan x="0" dy="11.5">rural areas</tspan></text></g>
<g id="c11"><ellipse class="e" cx="1159" cy="1578" rx="56" ry="72"/><text class="t" transform="translate(1159 1588) rotate(-90)"><tspan x="0" dy="-25.25">No good</tspan><tspan x="0" dy="11.5">female</tspan><tspan x="0" dy="11.5">teacher</tspan><tspan x="0" dy="11.5">employment</tspan><tspan x="0" dy="11.5">planning in</tspan><tspan x="0" dy="11.5">administration</tspan></text></g>
<g id="c12"><ellipse class="e" cx="917" cy="1666" rx="72" ry="43"/><text class="t" transform="translate(917 1666) rotate(-90)"><tspan x="0" dy="-8">Co-</tspan><tspan x="0" dy="11.5">educatio</tspan><tspan x="0" dy="11.5">n school</tspan></text></g>
<g id="c13"><ellipse class="e" cx="1035" cy="1748" rx="100" ry="60"/><text class="t" transform="translate(1035 1748) rotate(-90)"><tspan x="0" dy="-36.75">No wall/</tspan><tspan x="0" dy="11.5">fence around</tspan><tspan x="0" dy="11.5">the</tspan><tspan x="0" dy="11.5">building(they</tspan><tspan x="0" dy="11.5">feel</tspan><tspan x="0" dy="11.5">dangerous</tspan><tspan x="0" dy="11.5">and</tspan><tspan x="0" dy="11.5">embarrasing)</tspan></text></g>
<g id="c14"><ellipse class="e" cx="1052" cy="1850" rx="78" ry="38"/><text class="t" transform="translate(1052 1850) rotate(-90)"><tspan x="0" dy="-13.75">No</tspan><tspan x="0" dy="11.5">health</tspan><tspan x="0" dy="11.5">care</tspan><tspan x="0" dy="11.5">room</tspan></text></g>
<g id="c15"><ellipse class="e" cx="1013" cy="1934" rx="80" ry="46"/><text class="t" transform="translate(1013 1934) rotate(-90)"><tspan x="0" dy="-8">No</tspan><tspan x="0" dy="11.5">toilette</tspan><tspan x="0" dy="11.5">for girls</tspan></text></g>
<g id="d1"><ellipse class="e" cx="748" cy="1831" rx="58" ry="41"/><text class="t" transform="translate(748 1831) rotate(-90)"><tspan x="0" dy="-19.5">Big</tspan><tspan x="0" dy="11.5">Family</tspan><tspan x="0" dy="11.5">with</tspan><tspan x="0" dy="11.5">many</tspan><tspan x="0" dy="11.5">children</tspan></text></g>
<g id="d2"><ellipse class="e" cx="843" cy="1905" rx="75" ry="46"/><text class="t" transform="translate(843 1905) rotate(-90)"><tspan x="0" dy="-19.5">Official</tspan><tspan x="0" dy="11.5">care and</tspan><tspan x="0" dy="11.5">supports</tspan><tspan x="0" dy="11.5">are not</tspan><tspan x="0" dy="11.5">enough</tspan></text></g>
<g id="e1"><ellipse class="e" cx="853" cy="2000" rx="82" ry="56"/><text class="t" transform="translate(853 2000) rotate(-90)"><tspan x="0" dy="-31">Couldn't</tspan><tspan x="0" dy="11.5">start</tspan><tspan x="0" dy="11.5">schooling</tspan><tspan x="0" dy="11.5">in her age</tspan><tspan x="0" dy="11.5">of 5 to 7</tspan><tspan x="0" dy="11.5">(didn't</tspan><tspan x="0" dy="11.5">register)</tspan></text></g>
</svg>
